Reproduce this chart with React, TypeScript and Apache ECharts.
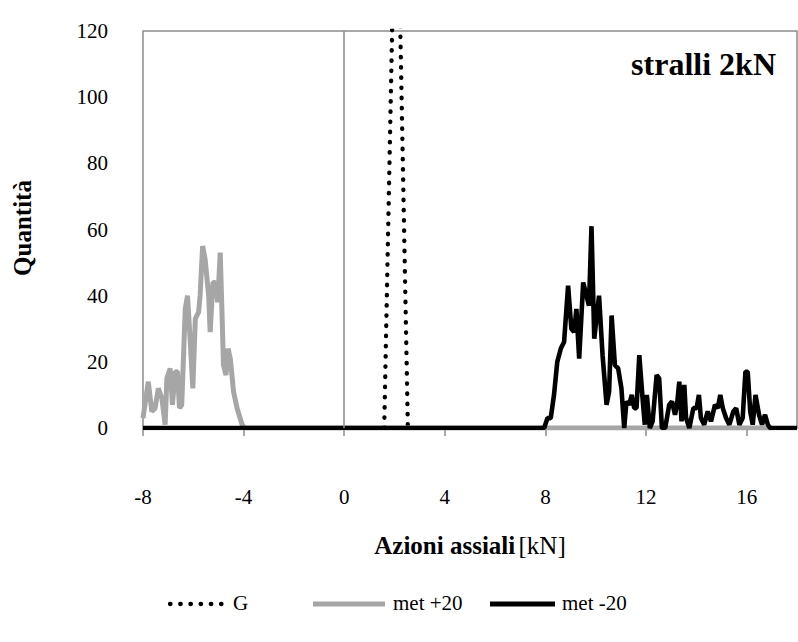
import React, { useEffect, useRef } from "react";
import * as echarts from "echarts";

// G series (dotted)
const gAxial = [1.59, 2.07, 2.53];
const gCount = [0, 184, 0];

// met +20 (gray)
const metPlusAxial = [
  -8.0, -7.79, -7.65, -7.52, -7.39, -7.25, -7.12, -7.05, -6.92, -6.83, -6.72, -6.63, -6.55, -6.46,
  -6.32, -6.23, -6.12, -6.02, -5.92, -5.79, -5.73, -5.63, -5.53, -5.39, -5.33, -5.22, -5.13, -5.03,
  -4.93, -4.86, -4.8, -4.7, -4.62, -4.53, -4.4, -4.26, -4.06, -3.95, 17.0,
];
const metPlusCount = [
  3, 14, 5, 6, 12, 9, 1, 15, 18, 7, 17, 17, 6, 7, 36, 40, 26, 12, 33, 35, 40, 55, 51, 40, 29, 44, 44,
  38, 53, 35, 19, 16, 24, 21, 11, 6, 1, 0, 0,
];

// met -20 (black)
const metMinusAxial = [
  -8, 7.95, 8.08, 8.21, 8.34, 8.47, 8.61, 8.74, 8.9, 9.03, 9.14, 9.23, 9.34, 9.5, 9.63, 9.73, 9.83,
  9.94, 10.13, 10.27, 10.43, 10.53, 10.63, 10.76, 10.89, 11.02, 11.13, 11.22, 11.33, 11.43, 11.53,
  11.62, 11.73, 11.86, 11.95, 12.03, 12.15, 12.26, 12.42, 12.52, 12.63, 12.76, 12.92, 13.03, 13.15,
  13.23, 13.32, 13.41, 13.52, 13.59, 13.72, 13.88, 14.01, 14.1, 14.18, 14.31, 14.45, 14.58, 14.74,
  14.85, 14.95, 15.05, 15.18, 15.31, 15.47, 15.58, 15.71, 15.84, 15.95, 16.04, 16.14, 16.24, 16.35,
  16.49, 16.61, 16.73, 16.84, 16.93, 18,
];
const metMinusCount = [
  0, 0, 3, 3, 10, 20, 24, 26, 43, 30, 29, 36, 21, 44, 40, 37, 61, 27, 40, 22, 7, 11, 34, 19, 18, 12,
  0, 8, 7, 10, 6, 6, 22, 9, 1, 10, 0, 2, 16, 15, 0, 0, 7, 8, 4, 7, 14, 2, 13, 3, 0, 6, 6, 10, 3, 1, 5,
  2, 7, 6, 10, 6, 3, 1, 5, 6, 1, 3, 17, 17, 5, 1, 10, 4, 1, 4, 1, 0, 0,
];

const xTicks = [-8, -4, 0, 4, 8, 12, 16];
const seriesNames = ["G", "met +20", "met -20"];
const titleText = "stralli 2kN";
const xAxisTitle = "Azioni assiali";
const xAxisUnit = "[kN]";
const yAxisTitle = "Quantità";

const zip = (xs: number[], ys: number[]) => xs.map((x, i) => [x, ys[i]]);

const FONT = "'Liberation Serif', 'DejaVu Serif', serif";
const GRAY = "#a6a6a6";
const AXIS_GRAY = "#8c8c8c";
const DOT_DASH = [0.5, 9.7];

export default function App() {
  const ref = useRef<HTMLDivElement>(null);
  useEffect(() => {
    document.body.style.margin = "0";
    const chart = echarts.init(ref.current!, null, { renderer: "svg" });
    const legendY = 604;
    const legendItems = [
      { x1: 170, x2: 228, tx: 233, color: "#000", dash: DOT_DASH, width: 4.3 },
      { x1: 313, x2: 385, tx: 393, color: GRAY, dash: null, width: 5 },
      { x1: 490, x2: 555, tx: 562, color: "#000", dash: null, width: 5 },
    ];
    const legendGraphics: any[] = [];
    legendItems.forEach((it, i) => {
      legendGraphics.push({
        type: "line",
        shape: { x1: it.x1, y1: legendY, x2: it.x2, y2: legendY },
        style: {
          stroke: it.color,
          lineWidth: it.width,
          lineDash: it.dash || undefined,
          lineCap: it.dash ? "round" : "butt",
        },
      });
      legendGraphics.push({
        type: "text",
        x: it.tx,
        y: legendY - 1,
        style: {
          text: seriesNames[i],
          fontFamily: FONT,
          fontSize: 21,
          fill: "#000",
          textAlign: "left",
          textVerticalAlign: "middle",
        },
      });
    });
    chart.setOption({
      animation: false,
      backgroundColor: "#ffffff",
      textStyle: { fontFamily: FONT, color: "#000" },
      grid: {
        left: 143,
        right: 1,
        top: 31,
        bottom: 214,
        show: true,
        borderColor: AXIS_GRAY,
        borderWidth: 1.5,
        outerBoundsMode: "none",
        containLabel: false,
      },
      graphic: [
        {
          type: "text",
          x: 776,
          y: 64,
          style: {
            text: titleText,
            fontFamily: FONT,
            fontSize: 32,
            fontWeight: "bold",
            fill: "#000",
            textAlign: "right",
            textVerticalAlign: "middle",
          },
        },
        {
          type: "text",
          x: 470,
          y: 545,
          style: {
            text: "{b|" + xAxisTitle + "} {r|" + xAxisUnit + "}",
            textAlign: "center",
            textVerticalAlign: "middle",
            rich: {
              b: { fontFamily: FONT, fontSize: 25, fontWeight: "bold", fill: "#000" },
              r: { fontFamily: FONT, fontSize: 25, fill: "#000" },
            },
          },
        },
        {
          type: "text",
          x: 22,
          y: 228,
          rotation: Math.PI / 2,
          style: {
            text: yAxisTitle,
            fontFamily: FONT,
            fontSize: 25,
            fontWeight: "bold",
            fill: "#000",
            textAlign: "center",
            textVerticalAlign: "middle",
          },
        },
        ...legendGraphics,
      ],
      xAxis: {
        type: "value",
        min: -8,
        max: 18,
        interval: 4,
        splitLine: { show: false },
        axisLine: { show: true, lineStyle: { color: AXIS_GRAY, width: 1.5 } },
        axisTick: {
          show: true,
          length: 8,
          customValues: xTicks,
          lineStyle: { color: AXIS_GRAY, width: 1.5 },
        },
        axisLabel: {
          customValues: xTicks,
          margin: 58,
          fontFamily: FONT,
          fontSize: 21,
          color: "#000",
        },
      },
      yAxis: {
        type: "value",
        min: 0,
        max: 120,
        interval: 20,
        splitLine: { show: false },
        axisLine: { show: false },
        axisTick: { show: false },
        axisLabel: { margin: 35, fontFamily: FONT, fontSize: 21, color: "#000" },
      },
      series: [
        {
          name: seriesNames[0],
          type: "line",
          data: zip(gAxial, gCount),
          symbol: "none",
          color: "#000",
          lineStyle: { color: "#000", width: 4.3, type: DOT_DASH, cap: "round" },
          markLine: {
            silent: true,
            symbol: "none",
            label: { show: false },
            lineStyle: { color: AXIS_GRAY, width: 1.5, type: "solid" },
            data: [{ xAxis: 0 }],
          },
        },
        {
          name: seriesNames[1],
          type: "line",
          data: zip(metPlusAxial, metPlusCount),
          symbol: "none",
          color: GRAY,
          lineStyle: { color: GRAY, width: 5 },
        },
        {
          name: seriesNames[2],
          type: "line",
          data: zip(metMinusAxial, metMinusCount),
          symbol: "none",
          color: "#000",
          lineStyle: { color: "#000", width: 4.6 },
        },
      ],
    });
    return () => chart.dispose();
  }, []);
  return <div ref={ref} style={{ width: 798, height: 642 }} />;
}
